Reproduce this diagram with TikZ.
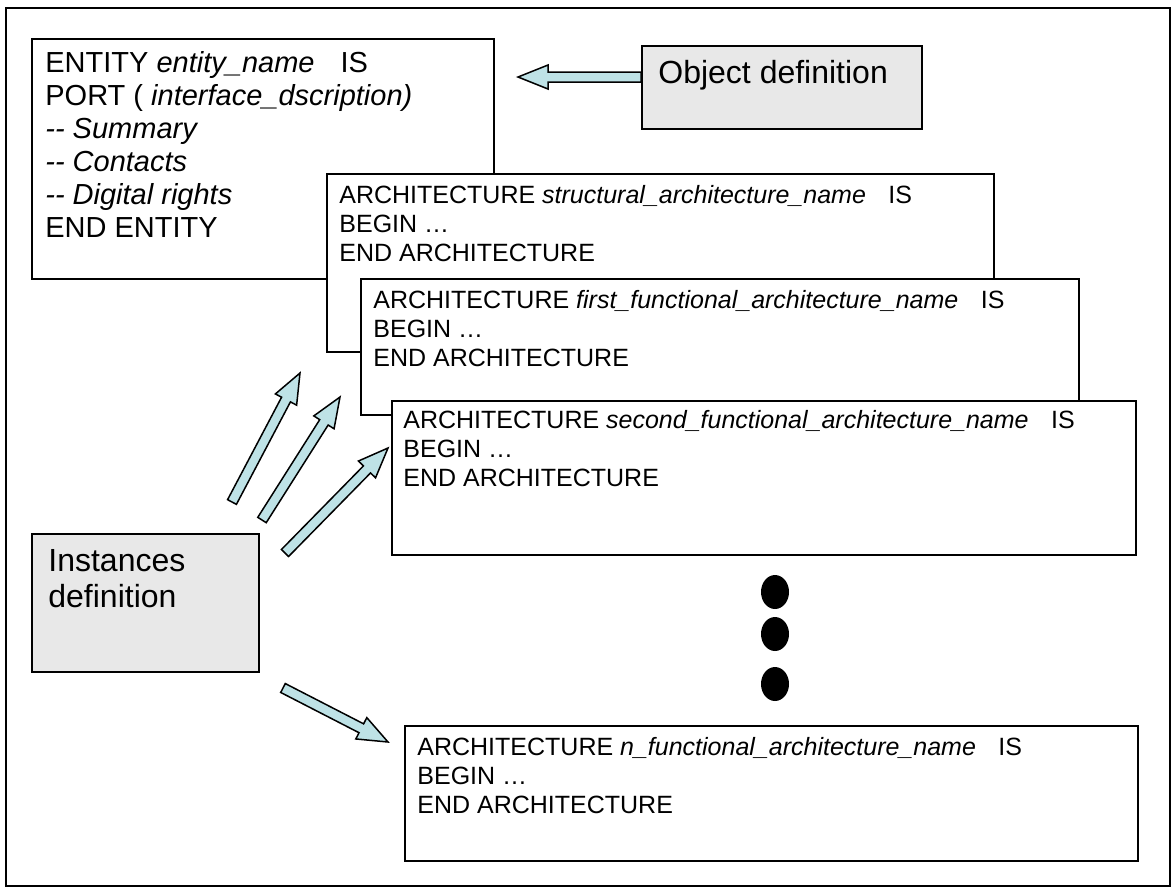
\documentclass[tikz,border=0pt]{standalone}
\usepackage{fontspec}
\setmainfont{Liberation Sans}
\usetikzlibrary{calc,shapes.geometric}

\definecolor{boxgray}{RGB}{232,232,232}
\definecolor{arrowblue}{RGB}{190,226,230}

% block arrow from #1 (tail) to #2 (tip)
\newcommand{\blockarrow}[2]{%
  \coordinate (h) at ($(#2)!15pt!(#1)$);
  \draw[blockarrow] ($(#1)!2.5pt!90:(#2)$) -- ($(h)!2.5pt!90:(#2)$) -- ($(h)!6pt!90:(#2)$)
    -- (#2) -- ($(h)!6pt!-90:(#2)$) -- ($(h)!2.5pt!-90:(#2)$) -- ($(#1)!2.5pt!-90:(#2)$) -- cycle;}

\tikzset{
  box/.style={draw,line width=1pt,fill=white,anchor=north west,inner sep=0pt},
  graybox/.style={box,fill=boxgray},
  txt/.style={anchor=north west,inner sep=0pt,align=left},
  entitytext/.style={txt,font=\fontsize{14.5}{16.5}\selectfont},
  archtext/.style={txt,font=\fontsize{12.5}{14.5}\selectfont},
  bigtext/.style={txt,font=\fontsize{16}{18}\selectfont},
  blockarrow/.style={draw,line width=0.75pt,fill=arrowblue,line join=miter},
  dot/.style={ellipse,fill=black,minimum width=14pt,minimum height=17pt,inner sep=0pt}
}

\begin{document}
\begin{tikzpicture}[x=0.5pt,y=-0.5pt]
  \useasboundingbox (0,0) rectangle (1173,890);

  \node[draw,line width=0.75pt,anchor=north west,inner sep=0pt,minimum width=582pt,minimum height=439pt] (frame) at (5,7) {};

  % entity
  \node[box,minimum width=231pt,minimum height=120pt] (entity) at (31,38) {};
  \node[entitytext] (entitytxt) at (45,51) {ENTITY \textit{entity\_name}\hspace{.9em}IS\\
    PORT ( \textit{interface\_dscription)}\\
    \textit{-{}- Summary}\\
    \textit{-{}- Contacts}\\
    \textit{-{}- Digital rights}\\
    END ENTITY};

  % object definition
  \node[graybox,minimum width=140pt,minimum height=41.5pt] (object) at (641,45) {};
  \node[bigtext] (objecttxt) at (658,60) {Object definition};

  % architectures
  \node[box,minimum width=333.5pt,minimum height=89pt] (arch1) at (326,173) {};
  \node[archtext] (arch1txt) at (339,185) {ARCHITECTURE \textit{structural\_architecture\_name}\hspace{.9em}IS\\
    BEGIN …\\
    END ARCHITECTURE};

  \node[box,minimum width=359pt,minimum height=68pt] (arch2) at (360,278) {};
  \node[archtext] (arch2txt) at (373,290) {ARCHITECTURE \textit{first\_functional\_architecture\_name}\hspace{.9em}IS\\
    BEGIN …\\
    END ARCHITECTURE};

  \node[box,minimum width=372pt,minimum height=77pt] (arch3) at (391,400) {};
  \node[archtext] (arch3txt) at (403,410) {ARCHITECTURE \textit{second\_functional\_architecture\_name}\hspace{.9em}IS\\
    BEGIN …\\
    END ARCHITECTURE};

  \node[box,minimum width=366.5pt,minimum height=67.5pt] (archn) at (404,725) {};
  \node[archtext] (archntxt) at (417,737) {ARCHITECTURE \textit{n\_functional\_architecture\_name}\hspace{.9em}IS\\
    BEGIN …\\
    END ARCHITECTURE};

  % instances definition
  \node[graybox,minimum width=113.5pt,minimum height=69pt] (inst) at (31,533) {};
  \node[bigtext,font=\fontsize{16}{18}\selectfont] (insttxt) at (48,549) {Instances\\definition};

  % arrows
  \coordinate (oa1) at (641,77);
  \coordinate (oa2) at (518,77);
  \blockarrow{oa1}{oa2}

  \coordinate (ia1) at (232,502);
  \coordinate (ib1) at (300,373);
  \coordinate (ia2) at (262,520);
  \coordinate (ib2) at (340,397);
  \coordinate (ia3) at (285,553);
  \coordinate (ib3) at (388,448);
  \coordinate (ia4) at (283,688);
  \coordinate (ib4) at (388,742);
  \blockarrow{ia1}{ib1}
  \blockarrow{ia2}{ib2}
  \blockarrow{ia3}{ib3}
  \blockarrow{ia4}{ib4}

  % dots
  \node[dot] (d1) at (775,592) {};
  \node[dot] (d2) at (775,634) {};
  \node[dot] (d3) at (775,684) {};

\end{tikzpicture}
\end{document}
